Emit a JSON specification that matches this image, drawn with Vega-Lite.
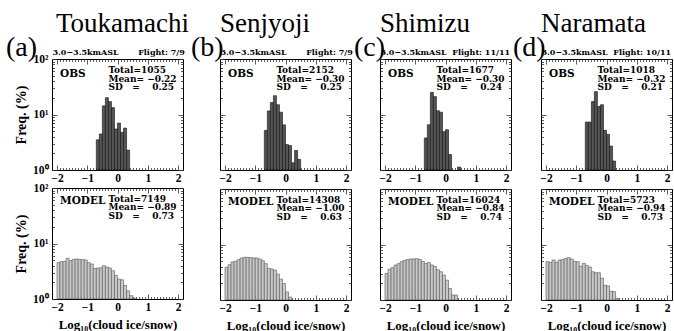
{
"$schema":"https://vega.github.io/schema/vega-lite/v6.json",
"background":"white",
"padding":{"left":5,"top":10,"right":0,"bottom":0},
"config":{
 "font":"Liberation Serif",
 "view":{"stroke":"black","strokeWidth":1},
 "axis":{"domain":false,"grid":false,"tickColor":"#333333","tickWidth":0.8,"labelFont":"Liberation Serif","labelFontWeight":"bold","labelFontSize":11.5,"labelColor":"black","labelFlush":false,"labelOverlap":false,"labelBound":false,"titleFont":"Liberation Serif","titleFontWeight":"bold","titleFontSize":13,"titleColor":"black"},
 "title":{"font":"Liberation Serif","fontWeight":"normal","color":"black"},
 "text":{"font":"DejaVu Serif","fontWeight":"bold","fontSize":9,"color":"black"}
},
"datasets":{
"bars":[
{"site":"a","panel":"OBS","lo":-0.7,"hi":-0.6,"freq":3.5},
{"site":"a","panel":"OBS","lo":-0.6,"hi":-0.5,"freq":4.45},
{"site":"a","panel":"OBS","lo":-0.5,"hi":-0.4,"freq":14.3},
{"site":"a","panel":"OBS","lo":-0.4,"hi":-0.3,"freq":20.1},
{"site":"a","panel":"OBS","lo":-0.3,"hi":-0.2,"freq":17.1},
{"site":"a","panel":"OBS","lo":-0.2,"hi":-0.1,"freq":13.3},
{"site":"a","panel":"OBS","lo":-0.1,"hi":0,"freq":5.47},
{"site":"a","panel":"OBS","lo":0,"hi":0.1,"freq":7.0},
{"site":"a","panel":"OBS","lo":0.1,"hi":0.2,"freq":4.77},
{"site":"a","panel":"OBS","lo":0.2,"hi":0.3,"freq":5.69},
{"site":"a","panel":"OBS","lo":0.3,"hi":0.4,"freq":2.28},
{"site":"b","panel":"OBS","lo":-0.7,"hi":-0.6,"freq":5.18},
{"site":"b","panel":"OBS","lo":-0.6,"hi":-0.5,"freq":11.6},
{"site":"b","panel":"OBS","lo":-0.5,"hi":-0.4,"freq":16.4},
{"site":"b","panel":"OBS","lo":-0.4,"hi":-0.3,"freq":21.8},
{"site":"b","panel":"OBS","lo":-0.3,"hi":-0.2,"freq":15},
{"site":"b","panel":"OBS","lo":-0.2,"hi":-0.1,"freq":11},
{"site":"b","panel":"OBS","lo":-0.1,"hi":0,"freq":6.5},
{"site":"b","panel":"OBS","lo":0,"hi":0.1,"freq":2.87},
{"site":"b","panel":"OBS","lo":0.1,"hi":0.2,"freq":2.76},
{"site":"b","panel":"OBS","lo":0.2,"hi":0.3,"freq":1.35},
{"site":"b","panel":"OBS","lo":0.3,"hi":0.4,"freq":2.25},
{"site":"b","panel":"OBS","lo":0.4,"hi":0.5,"freq":1.55},
{"site":"c","panel":"OBS","lo":-0.7,"hi":-0.6,"freq":3.78},
{"site":"c","panel":"OBS","lo":-0.6,"hi":-0.5,"freq":6.54},
{"site":"c","panel":"OBS","lo":-0.5,"hi":-0.4,"freq":25},
{"site":"c","panel":"OBS","lo":-0.4,"hi":-0.3,"freq":21},
{"site":"c","panel":"OBS","lo":-0.3,"hi":-0.2,"freq":11.7},
{"site":"c","panel":"OBS","lo":-0.2,"hi":-0.1,"freq":11},
{"site":"c","panel":"OBS","lo":-0.1,"hi":0,"freq":4.9},
{"site":"c","panel":"OBS","lo":0,"hi":0.1,"freq":5.33},
{"site":"c","panel":"OBS","lo":0.1,"hi":0.2,"freq":1.9},
{"site":"c","panel":"OBS","lo":0.4,"hi":0.5,"freq":1.13},
{"site":"d","panel":"OBS","lo":-0.7,"hi":-0.6,"freq":7.3},
{"site":"d","panel":"OBS","lo":-0.6,"hi":-0.5,"freq":7.3},
{"site":"d","panel":"OBS","lo":-0.5,"hi":-0.4,"freq":17.1},
{"site":"d","panel":"OBS","lo":-0.4,"hi":-0.3,"freq":25.8},
{"site":"d","panel":"OBS","lo":-0.3,"hi":-0.2,"freq":14},
{"site":"d","panel":"OBS","lo":-0.2,"hi":-0.1,"freq":15},
{"site":"d","panel":"OBS","lo":-0.1,"hi":0,"freq":5.2},
{"site":"d","panel":"OBS","lo":0,"hi":0.1,"freq":4.4},
{"site":"d","panel":"OBS","lo":0.1,"hi":0.2,"freq":2.7},
{"site":"d","panel":"OBS","lo":0.2,"hi":0.3,"freq":1.45},
{"site":"a","panel":"MODEL","lo":-2,"hi":-1.9,"freq":4.52},
{"site":"a","panel":"MODEL","lo":-1.9,"hi":-1.8,"freq":4.71},
{"site":"a","panel":"MODEL","lo":-1.8,"hi":-1.7,"freq":4.77},
{"site":"a","panel":"MODEL","lo":-1.7,"hi":-1.6,"freq":5.41},
{"site":"a","panel":"MODEL","lo":-1.6,"hi":-1.5,"freq":4.91},
{"site":"a","panel":"MODEL","lo":-1.5,"hi":-1.4,"freq":5.19},
{"site":"a","panel":"MODEL","lo":-1.4,"hi":-1.3,"freq":5.26},
{"site":"a","panel":"MODEL","lo":-1.3,"hi":-1.2,"freq":5.19},
{"site":"a","panel":"MODEL","lo":-1.2,"hi":-1.1,"freq":5.12},
{"site":"a","panel":"MODEL","lo":-1.1,"hi":-1,"freq":5.05},
{"site":"a","panel":"MODEL","lo":-1,"hi":-0.9,"freq":4.52},
{"site":"a","panel":"MODEL","lo":-0.9,"hi":-0.8,"freq":4.27},
{"site":"a","panel":"MODEL","lo":-0.8,"hi":-0.7,"freq":3.56},
{"site":"a","panel":"MODEL","lo":-0.7,"hi":-0.6,"freq":3.61},
{"site":"a","panel":"MODEL","lo":-0.6,"hi":-0.5,"freq":3.66},
{"site":"a","panel":"MODEL","lo":-0.5,"hi":-0.4,"freq":3.98},
{"site":"a","panel":"MODEL","lo":-0.4,"hi":-0.3,"freq":3.77},
{"site":"a","panel":"MODEL","lo":-0.3,"hi":-0.2,"freq":3.61},
{"site":"a","panel":"MODEL","lo":-0.2,"hi":-0.1,"freq":3.23},
{"site":"a","panel":"MODEL","lo":-0.1,"hi":0,"freq":2.66},
{"site":"a","panel":"MODEL","lo":0,"hi":0.1,"freq":2.28},
{"site":"a","panel":"MODEL","lo":0.1,"hi":0.2,"freq":2.22},
{"site":"a","panel":"MODEL","lo":0.2,"hi":0.3,"freq":1.75},
{"site":"a","panel":"MODEL","lo":0.3,"hi":0.4,"freq":1.4},
{"site":"a","panel":"MODEL","lo":0.4,"hi":0.5,"freq":1.15},
{"site":"a","panel":"MODEL","lo":0.5,"hi":0.6,"freq":1.03},
{"site":"b","panel":"MODEL","lo":-2,"hi":-1.9,"freq":3.87},
{"site":"b","panel":"MODEL","lo":-1.9,"hi":-1.8,"freq":4.33},
{"site":"b","panel":"MODEL","lo":-1.8,"hi":-1.7,"freq":4.84},
{"site":"b","panel":"MODEL","lo":-1.7,"hi":-1.6,"freq":4.98},
{"site":"b","panel":"MODEL","lo":-1.6,"hi":-1.5,"freq":5.34},
{"site":"b","panel":"MODEL","lo":-1.5,"hi":-1.4,"freq":5.72},
{"site":"b","panel":"MODEL","lo":-1.4,"hi":-1.3,"freq":5.88},
{"site":"b","panel":"MODEL","lo":-1.3,"hi":-1.2,"freq":5.88},
{"site":"b","panel":"MODEL","lo":-1.2,"hi":-1.1,"freq":5.8},
{"site":"b","panel":"MODEL","lo":-1.1,"hi":-1,"freq":5.72},
{"site":"b","panel":"MODEL","lo":-1,"hi":-0.9,"freq":5.72},
{"site":"b","panel":"MODEL","lo":-0.9,"hi":-0.8,"freq":5.49},
{"site":"b","panel":"MODEL","lo":-0.8,"hi":-0.7,"freq":5.12},
{"site":"b","panel":"MODEL","lo":-0.7,"hi":-0.6,"freq":4.52},
{"site":"b","panel":"MODEL","lo":-0.6,"hi":-0.5,"freq":3.71},
{"site":"b","panel":"MODEL","lo":-0.5,"hi":-0.4,"freq":3.61},
{"site":"b","panel":"MODEL","lo":-0.4,"hi":-0.3,"freq":3.46},
{"site":"b","panel":"MODEL","lo":-0.3,"hi":-0.2,"freq":2.93},
{"site":"b","panel":"MODEL","lo":-0.2,"hi":-0.1,"freq":2.38},
{"site":"b","panel":"MODEL","lo":-0.1,"hi":0,"freq":1.98},
{"site":"b","panel":"MODEL","lo":0,"hi":0.1,"freq":1.4},
{"site":"b","panel":"MODEL","lo":0.1,"hi":0.2,"freq":1.13},
{"site":"c","panel":"MODEL","lo":-2,"hi":-1.9,"freq":3.01},
{"site":"c","panel":"MODEL","lo":-1.9,"hi":-1.8,"freq":3.61},
{"site":"c","panel":"MODEL","lo":-1.8,"hi":-1.7,"freq":3.82},
{"site":"c","panel":"MODEL","lo":-1.7,"hi":-1.6,"freq":4.27},
{"site":"c","panel":"MODEL","lo":-1.6,"hi":-1.5,"freq":4.52},
{"site":"c","panel":"MODEL","lo":-1.5,"hi":-1.4,"freq":4.91},
{"site":"c","panel":"MODEL","lo":-1.4,"hi":-1.3,"freq":5.19},
{"site":"c","panel":"MODEL","lo":-1.3,"hi":-1.2,"freq":5.34},
{"site":"c","panel":"MODEL","lo":-1.2,"hi":-1.1,"freq":5.49},
{"site":"c","panel":"MODEL","lo":-1.1,"hi":-1,"freq":5.49},
{"site":"c","panel":"MODEL","lo":-1,"hi":-0.9,"freq":5.56},
{"site":"c","panel":"MODEL","lo":-0.9,"hi":-0.8,"freq":5.41},
{"site":"c","panel":"MODEL","lo":-0.8,"hi":-0.7,"freq":4.98},
{"site":"c","panel":"MODEL","lo":-0.7,"hi":-0.6,"freq":4.58},
{"site":"c","panel":"MODEL","lo":-0.6,"hi":-0.5,"freq":4.71},
{"site":"c","panel":"MODEL","lo":-0.5,"hi":-0.4,"freq":4.27},
{"site":"c","panel":"MODEL","lo":-0.4,"hi":-0.3,"freq":4.04},
{"site":"c","panel":"MODEL","lo":-0.3,"hi":-0.2,"freq":3.51},
{"site":"c","panel":"MODEL","lo":-0.2,"hi":-0.1,"freq":3.23},
{"site":"c","panel":"MODEL","lo":-0.1,"hi":0,"freq":2.81},
{"site":"c","panel":"MODEL","lo":0,"hi":0.1,"freq":2.28},
{"site":"c","panel":"MODEL","lo":0.1,"hi":0.2,"freq":1.61},
{"site":"c","panel":"MODEL","lo":0.2,"hi":0.3,"freq":1.23},
{"site":"c","panel":"MODEL","lo":0.3,"hi":0.4,"freq":1.23},
{"site":"d","panel":"MODEL","lo":-2,"hi":-1.9,"freq":4.91},
{"site":"d","panel":"MODEL","lo":-1.9,"hi":-1.8,"freq":4.77},
{"site":"d","panel":"MODEL","lo":-1.8,"hi":-1.7,"freq":5.26},
{"site":"d","panel":"MODEL","lo":-1.7,"hi":-1.6,"freq":4.77},
{"site":"d","panel":"MODEL","lo":-1.6,"hi":-1.5,"freq":5.26},
{"site":"d","panel":"MODEL","lo":-1.5,"hi":-1.4,"freq":5.34},
{"site":"d","panel":"MODEL","lo":-1.4,"hi":-1.3,"freq":5.56},
{"site":"d","panel":"MODEL","lo":-1.3,"hi":-1.2,"freq":5.8},
{"site":"d","panel":"MODEL","lo":-1.2,"hi":-1.1,"freq":5.49},
{"site":"d","panel":"MODEL","lo":-1.1,"hi":-1,"freq":4.98},
{"site":"d","panel":"MODEL","lo":-1,"hi":-0.9,"freq":4.91},
{"site":"d","panel":"MODEL","lo":-0.9,"hi":-0.8,"freq":4.04},
{"site":"d","panel":"MODEL","lo":-0.8,"hi":-0.7,"freq":4.58},
{"site":"d","panel":"MODEL","lo":-0.7,"hi":-0.6,"freq":4.21},
{"site":"d","panel":"MODEL","lo":-0.6,"hi":-0.5,"freq":3.93},
{"site":"d","panel":"MODEL","lo":-0.5,"hi":-0.4,"freq":3.23},
{"site":"d","panel":"MODEL","lo":-0.4,"hi":-0.3,"freq":3.1},
{"site":"d","panel":"MODEL","lo":-0.3,"hi":-0.2,"freq":3.1},
{"site":"d","panel":"MODEL","lo":-0.2,"hi":-0.1,"freq":2.48},
{"site":"d","panel":"MODEL","lo":-0.1,"hi":0,"freq":1.85},
{"site":"d","panel":"MODEL","lo":0,"hi":0.1,"freq":1.8},
{"site":"d","panel":"MODEL","lo":0.1,"hi":0.2,"freq":1.44},
{"site":"d","panel":"MODEL","lo":0.2,"hi":0.3,"freq":1.42},
{"site":"d","panel":"MODEL","lo":0.3,"hi":0.4,"freq":1.07}
],
"stats":[
{"site":"a","panel":"OBS","stats":"Total=1055\nMean= −0.22\nSD\u00a0\u00a0\u00a0=\u00a0\u00a0\u00a0\u00a00.25"},
{"site":"b","panel":"OBS","stats":"Total=2152\nMean= −0.30\nSD\u00a0\u00a0\u00a0=\u00a0\u00a0\u00a0\u00a00.25"},
{"site":"c","panel":"OBS","stats":"Total=1677\nMean= −0.30\nSD\u00a0\u00a0\u00a0=\u00a0\u00a0\u00a0\u00a00.24"},
{"site":"d","panel":"OBS","stats":"Total=1018\nMean= −0.32\nSD\u00a0\u00a0\u00a0=\u00a0\u00a0\u00a0\u00a00.21"},
{"site":"a","panel":"MODEL","stats":"Total=7149\nMean= −0.89\nSD\u00a0\u00a0\u00a0=\u00a0\u00a0\u00a0\u00a00.73"},
{"site":"b","panel":"MODEL","stats":"Total=14308\nMean= −1.00\nSD\u00a0\u00a0\u00a0=\u00a0\u00a0\u00a0\u00a00.63"},
{"site":"c","panel":"MODEL","stats":"Total=16024\nMean= −0.84\nSD\u00a0\u00a0\u00a0=\u00a0\u00a0\u00a0\u00a00.74"},
{"site":"d","panel":"MODEL","stats":"Total=5723\nMean= −0.94\nSD\u00a0\u00a0\u00a0=\u00a0\u00a0\u00a0\u00a00.73"}
]
},
"spacing":0,
"hconcat":[
{"spacing":-6,"title":{"text":"Toukamachi","anchor":"start","frame":"group","fontSize":27,"dx":4,"offset":-5},
 "vconcat":[
 {"width":131,"height":111,"title":{"text":"(a)","anchor":"start","frame":"group","fontSize":28,"dx":-46,"offset":-13},
  "layer":[
  {"data":{"name":"bars"},"transform":[{"filter":"datum.site==='a' && datum.panel==='OBS'"}],
   "mark":{"type":"bar","orient":"vertical","fill":"#555555","stroke":"#111111","strokeWidth":0.6,"clip":true},
   "encoding":{
    "x":{"field":"lo","type":"quantitative","scale":{"domain":[-2,2],"nice":false,"zero":false},"axis":{"orient":"bottom","values":[-2,-1.9,-1.8,-1.7,-1.6,-1.5,-1.4,-1.3,-1.2,-1.1,-1,-0.9,-0.8,-0.7,-0.6,-0.5,-0.4,-0.3,-0.2,-0.1,0,0.1,0.2,0.3,0.4,0.5,0.6,0.7,0.8,0.9,1,1.1,1.2,1.3,1.4,1.5,1.6,1.7,1.8,1.9,2],"labelExpr":"datum.value % 1 === 0 ? format(datum.value, 'd') : ''","tickSize":{"condition":{"test":"datum.value % 1 === 0","value":-5},"value":-2.5},"labelPadding":7,"title":null}},
    "x2":{"field":"hi"},
    "y":{"field":"freq","type":"quantitative","scale":{"type":"log","domain":[1,100],"nice":false},"axis":{"orient":"left","values":[1,2,3,4,5,6,7,8,9,10,20,30,40,50,60,70,80,90,100],"labelExpr":"datum.value === 1 ? '10⁰' : datum.value === 10 ? '10¹' : datum.value === 100 ? '10²' : ''","tickSize":{"condition":{"test":"datum.value === 1 || datum.value === 10 || datum.value === 100","value":-5},"value":-2.5},"labelPadding":9,"title":"Freq. (%)","titleFontSize":14,"titlePadding":4}},
    "y2":{"datum":1}
   }},
  {"data":{"name":"stats"},"transform":[{"filter":"datum.site==='a' && datum.panel==='OBS'"}],
   "mark":{"type":"text","align":"left","baseline":"top","fontSize":10.5},
   "encoding":{
    "x":{"datum":-1.9,"type":"quantitative","axis":{"orient":"top","values":[-2,-1.9,-1.8,-1.7,-1.6,-1.5,-1.4,-1.3,-1.2,-1.1,-1,-0.9,-0.8,-0.7,-0.6,-0.5,-0.4,-0.3,-0.2,-0.1,0,0.1,0.2,0.3,0.4,0.5,0.6,0.7,0.8,0.9,1,1.1,1.2,1.3,1.4,1.5,1.6,1.7,1.8,1.9,2],"labels":false,"tickSize":{"condition":{"test":"datum.value % 1 === 0","value":-5},"value":-2.5},"title":"3.0−3.5kmASL\u00a0\u00a0\u00a0\u00a0\u00a0\u00a0\u00a0Flight: 7/9","titleAnchor":"start","titleFont":"DejaVu Serif","titleFontSize":8,"titlePadding":2}},
    "y":{"datum":66,"type":"quantitative","axis":{"orient":"right","values":[1,2,3,4,5,6,7,8,9,10,20,30,40,50,60,70,80,90,100],"labels":false,"tickSize":{"condition":{"test":"datum.value === 1 || datum.value === 10 || datum.value === 100","value":-5},"value":-2.5},"title":null}},
    "text":{"field":"panel"}}},
  {"data":{"name":"stats"},"transform":[{"filter":"datum.site==='a' && datum.panel==='OBS'"}],
   "mark":{"type":"text","align":"left","baseline":"top","lineBreak":"\n","lineHeight":8.5},
   "encoding":{"x":{"datum":-0.3,"type":"quantitative","axis":null},"y":{"datum":74,"type":"quantitative","axis":null},"text":{"field":"stats"}}}
  ]},
 {"width":131,"height":111,
  "layer":[
  {"data":{"name":"bars"},"transform":[{"filter":"datum.site==='a' && datum.panel==='MODEL'"}],
   "mark":{"type":"bar","orient":"vertical","fill":"#c8c8c8","stroke":"#555555","strokeWidth":0.6,"clip":true},
   "encoding":{
    "x":{"field":"lo","type":"quantitative","scale":{"domain":[-2,2],"nice":false,"zero":false},"axis":{"orient":"bottom","values":[-2,-1.9,-1.8,-1.7,-1.6,-1.5,-1.4,-1.3,-1.2,-1.1,-1,-0.9,-0.8,-0.7,-0.6,-0.5,-0.4,-0.3,-0.2,-0.1,0,0.1,0.2,0.3,0.4,0.5,0.6,0.7,0.8,0.9,1,1.1,1.2,1.3,1.4,1.5,1.6,1.7,1.8,1.9,2],"labelExpr":"datum.value % 1 === 0 ? format(datum.value, 'd') : ''","tickSize":{"condition":{"test":"datum.value % 1 === 0","value":-5},"value":-2.5},"labelPadding":7,"title":"Log₁₀(cloud ice/snow)","titlePadding":3}},
    "x2":{"field":"hi"},
    "y":{"field":"freq","type":"quantitative","scale":{"type":"log","domain":[1,100],"nice":false},"axis":{"orient":"left","values":[1,2,3,4,5,6,7,8,9,10,20,30,40,50,60,70,80,90,100],"labelExpr":"datum.value === 1 ? '10⁰' : datum.value === 10 ? '10¹' : datum.value === 100 ? '10²' : ''","tickSize":{"condition":{"test":"datum.value === 1 || datum.value === 10 || datum.value === 100","value":-5},"value":-2.5},"labelPadding":9,"title":"Freq. (%)","titleFontSize":14,"titlePadding":4}},
    "y2":{"datum":1}
   }},
  {"data":{"name":"stats"},"transform":[{"filter":"datum.site==='a' && datum.panel==='MODEL'"}],
   "mark":{"type":"text","align":"left","baseline":"top","fontSize":10.5},
   "encoding":{
    "x":{"datum":-1.9,"type":"quantitative","axis":{"orient":"top","values":[-2,-1.9,-1.8,-1.7,-1.6,-1.5,-1.4,-1.3,-1.2,-1.1,-1,-0.9,-0.8,-0.7,-0.6,-0.5,-0.4,-0.3,-0.2,-0.1,0,0.1,0.2,0.3,0.4,0.5,0.6,0.7,0.8,0.9,1,1.1,1.2,1.3,1.4,1.5,1.6,1.7,1.8,1.9,2],"labels":false,"tickSize":{"condition":{"test":"datum.value % 1 === 0","value":-5},"value":-2.5},"title":null}},
    "y":{"datum":72,"type":"quantitative","axis":{"orient":"right","values":[1,2,3,4,5,6,7,8,9,10,20,30,40,50,60,70,80,90,100],"labels":false,"tickSize":{"condition":{"test":"datum.value === 1 || datum.value === 10 || datum.value === 100","value":-5},"value":-2.5},"title":null}},
    "text":{"field":"panel"}}},
  {"data":{"name":"stats"},"transform":[{"filter":"datum.site==='a' && datum.panel==='MODEL'"}],
   "mark":{"type":"text","align":"left","baseline":"top","lineBreak":"\n","lineHeight":8.5},
   "encoding":{"x":{"datum":-0.3,"type":"quantitative","axis":null},"y":{"datum":76,"type":"quantitative","axis":null},"text":{"field":"stats"}}}
  ]}
 ]},
{"spacing":1,"title":{"text":"Senjyoji","anchor":"start","frame":"group","fontSize":27,"dx":0,"offset":-5},
 "vconcat":[
 {"width":131,"height":111,"title":{"text":"(b)","anchor":"start","frame":"group","fontSize":28,"dx":-29,"offset":-13},
  "layer":[
  {"data":{"name":"bars"},"transform":[{"filter":"datum.site==='b' && datum.panel==='OBS'"}],
   "mark":{"type":"bar","orient":"vertical","fill":"#555555","stroke":"#111111","strokeWidth":0.6,"clip":true},
   "encoding":{
    "x":{"field":"lo","type":"quantitative","scale":{"domain":[-2,2],"nice":false,"zero":false},"axis":{"orient":"bottom","values":[-2,-1.9,-1.8,-1.7,-1.6,-1.5,-1.4,-1.3,-1.2,-1.1,-1,-0.9,-0.8,-0.7,-0.6,-0.5,-0.4,-0.3,-0.2,-0.1,0,0.1,0.2,0.3,0.4,0.5,0.6,0.7,0.8,0.9,1,1.1,1.2,1.3,1.4,1.5,1.6,1.7,1.8,1.9,2],"labelExpr":"datum.value % 1 === 0 ? format(datum.value, 'd') : ''","tickSize":{"condition":{"test":"datum.value % 1 === 0","value":-5},"value":-2.5},"labelPadding":7,"title":null}},
    "x2":{"field":"hi"},
    "y":{"field":"freq","type":"quantitative","scale":{"type":"log","domain":[1,100],"nice":false},"axis":{"orient":"left","values":[1,2,3,4,5,6,7,8,9,10,20,30,40,50,60,70,80,90,100],"labels":false,"tickSize":{"condition":{"test":"datum.value === 1 || datum.value === 10 || datum.value === 100","value":-5},"value":-2.5},"title":null}},
    "y2":{"datum":1}
   }},
  {"data":{"name":"stats"},"transform":[{"filter":"datum.site==='b' && datum.panel==='OBS'"}],
   "mark":{"type":"text","align":"left","baseline":"top","fontSize":10.5},
   "encoding":{
    "x":{"datum":-1.9,"type":"quantitative","axis":{"orient":"top","values":[-2,-1.9,-1.8,-1.7,-1.6,-1.5,-1.4,-1.3,-1.2,-1.1,-1,-0.9,-0.8,-0.7,-0.6,-0.5,-0.4,-0.3,-0.2,-0.1,0,0.1,0.2,0.3,0.4,0.5,0.6,0.7,0.8,0.9,1,1.1,1.2,1.3,1.4,1.5,1.6,1.7,1.8,1.9,2],"labels":false,"tickSize":{"condition":{"test":"datum.value % 1 === 0","value":-5},"value":-2.5},"title":"3.0−3.5kmASL\u00a0\u00a0\u00a0\u00a0\u00a0\u00a0\u00a0Flight: 7/9","titleAnchor":"start","titleFont":"DejaVu Serif","titleFontSize":8,"titlePadding":2}},
    "y":{"datum":66,"type":"quantitative","axis":{"orient":"right","values":[1,2,3,4,5,6,7,8,9,10,20,30,40,50,60,70,80,90,100],"labels":false,"tickSize":{"condition":{"test":"datum.value === 1 || datum.value === 10 || datum.value === 100","value":-5},"value":-2.5},"title":null}},
    "text":{"field":"panel"}}},
  {"data":{"name":"stats"},"transform":[{"filter":"datum.site==='b' && datum.panel==='OBS'"}],
   "mark":{"type":"text","align":"left","baseline":"top","lineBreak":"\n","lineHeight":8.5},
   "encoding":{"x":{"datum":-0.3,"type":"quantitative","axis":null},"y":{"datum":74,"type":"quantitative","axis":null},"text":{"field":"stats"}}}
  ]},
 {"width":131,"height":111,
  "layer":[
  {"data":{"name":"bars"},"transform":[{"filter":"datum.site==='b' && datum.panel==='MODEL'"}],
   "mark":{"type":"bar","orient":"vertical","fill":"#c8c8c8","stroke":"#555555","strokeWidth":0.6,"clip":true},
   "encoding":{
    "x":{"field":"lo","type":"quantitative","scale":{"domain":[-2,2],"nice":false,"zero":false},"axis":{"orient":"bottom","values":[-2,-1.9,-1.8,-1.7,-1.6,-1.5,-1.4,-1.3,-1.2,-1.1,-1,-0.9,-0.8,-0.7,-0.6,-0.5,-0.4,-0.3,-0.2,-0.1,0,0.1,0.2,0.3,0.4,0.5,0.6,0.7,0.8,0.9,1,1.1,1.2,1.3,1.4,1.5,1.6,1.7,1.8,1.9,2],"labelExpr":"datum.value % 1 === 0 ? format(datum.value, 'd') : ''","tickSize":{"condition":{"test":"datum.value % 1 === 0","value":-5},"value":-2.5},"labelPadding":7,"title":"Log₁₀(cloud ice/snow)","titlePadding":3}},
    "x2":{"field":"hi"},
    "y":{"field":"freq","type":"quantitative","scale":{"type":"log","domain":[1,100],"nice":false},"axis":{"orient":"left","values":[1,2,3,4,5,6,7,8,9,10,20,30,40,50,60,70,80,90,100],"labels":false,"tickSize":{"condition":{"test":"datum.value === 1 || datum.value === 10 || datum.value === 100","value":-5},"value":-2.5},"title":null}},
    "y2":{"datum":1}
   }},
  {"data":{"name":"stats"},"transform":[{"filter":"datum.site==='b' && datum.panel==='MODEL'"}],
   "mark":{"type":"text","align":"left","baseline":"top","fontSize":10.5},
   "encoding":{
    "x":{"datum":-1.9,"type":"quantitative","axis":{"orient":"top","values":[-2,-1.9,-1.8,-1.7,-1.6,-1.5,-1.4,-1.3,-1.2,-1.1,-1,-0.9,-0.8,-0.7,-0.6,-0.5,-0.4,-0.3,-0.2,-0.1,0,0.1,0.2,0.3,0.4,0.5,0.6,0.7,0.8,0.9,1,1.1,1.2,1.3,1.4,1.5,1.6,1.7,1.8,1.9,2],"labels":false,"tickSize":{"condition":{"test":"datum.value % 1 === 0","value":-5},"value":-2.5},"title":null}},
    "y":{"datum":72,"type":"quantitative","axis":{"orient":"right","values":[1,2,3,4,5,6,7,8,9,10,20,30,40,50,60,70,80,90,100],"labels":false,"tickSize":{"condition":{"test":"datum.value === 1 || datum.value === 10 || datum.value === 100","value":-5},"value":-2.5},"title":null}},
    "text":{"field":"panel"}}},
  {"data":{"name":"stats"},"transform":[{"filter":"datum.site==='b' && datum.panel==='MODEL'"}],
   "mark":{"type":"text","align":"left","baseline":"top","lineBreak":"\n","lineHeight":8.5},
   "encoding":{"x":{"datum":-0.3,"type":"quantitative","axis":null},"y":{"datum":76,"type":"quantitative","axis":null},"text":{"field":"stats"}}}
  ]}
 ]},
{"spacing":1,"title":{"text":"Shimizu","anchor":"start","frame":"group","fontSize":27,"dx":0,"offset":-5},
 "vconcat":[
 {"width":131,"height":111,"title":{"text":"(c)","anchor":"start","frame":"group","fontSize":28,"dx":-26,"offset":-13},
  "layer":[
  {"data":{"name":"bars"},"transform":[{"filter":"datum.site==='c' && datum.panel==='OBS'"}],
   "mark":{"type":"bar","orient":"vertical","fill":"#555555","stroke":"#111111","strokeWidth":0.6,"clip":true},
   "encoding":{
    "x":{"field":"lo","type":"quantitative","scale":{"domain":[-2,2],"nice":false,"zero":false},"axis":{"orient":"bottom","values":[-2,-1.9,-1.8,-1.7,-1.6,-1.5,-1.4,-1.3,-1.2,-1.1,-1,-0.9,-0.8,-0.7,-0.6,-0.5,-0.4,-0.3,-0.2,-0.1,0,0.1,0.2,0.3,0.4,0.5,0.6,0.7,0.8,0.9,1,1.1,1.2,1.3,1.4,1.5,1.6,1.7,1.8,1.9,2],"labelExpr":"datum.value % 1 === 0 ? format(datum.value, 'd') : ''","tickSize":{"condition":{"test":"datum.value % 1 === 0","value":-5},"value":-2.5},"labelPadding":7,"title":null}},
    "x2":{"field":"hi"},
    "y":{"field":"freq","type":"quantitative","scale":{"type":"log","domain":[1,100],"nice":false},"axis":{"orient":"left","values":[1,2,3,4,5,6,7,8,9,10,20,30,40,50,60,70,80,90,100],"labels":false,"tickSize":{"condition":{"test":"datum.value === 1 || datum.value === 10 || datum.value === 100","value":-5},"value":-2.5},"title":null}},
    "y2":{"datum":1}
   }},
  {"data":{"name":"stats"},"transform":[{"filter":"datum.site==='c' && datum.panel==='OBS'"}],
   "mark":{"type":"text","align":"left","baseline":"top","fontSize":10.5},
   "encoding":{
    "x":{"datum":-1.9,"type":"quantitative","axis":{"orient":"top","values":[-2,-1.9,-1.8,-1.7,-1.6,-1.5,-1.4,-1.3,-1.2,-1.1,-1,-0.9,-0.8,-0.7,-0.6,-0.5,-0.4,-0.3,-0.2,-0.1,0,0.1,0.2,0.3,0.4,0.5,0.6,0.7,0.8,0.9,1,1.1,1.2,1.3,1.4,1.5,1.6,1.7,1.8,1.9,2],"labels":false,"tickSize":{"condition":{"test":"datum.value % 1 === 0","value":-5},"value":-2.5},"title":"3.0−3.5kmASL\u00a0\u00a0Flight: 11/11","titleAnchor":"start","titleFont":"DejaVu Serif","titleFontSize":8,"titlePadding":2}},
    "y":{"datum":66,"type":"quantitative","axis":{"orient":"right","values":[1,2,3,4,5,6,7,8,9,10,20,30,40,50,60,70,80,90,100],"labels":false,"tickSize":{"condition":{"test":"datum.value === 1 || datum.value === 10 || datum.value === 100","value":-5},"value":-2.5},"title":null}},
    "text":{"field":"panel"}}},
  {"data":{"name":"stats"},"transform":[{"filter":"datum.site==='c' && datum.panel==='OBS'"}],
   "mark":{"type":"text","align":"left","baseline":"top","lineBreak":"\n","lineHeight":8.5},
   "encoding":{"x":{"datum":-0.3,"type":"quantitative","axis":null},"y":{"datum":74,"type":"quantitative","axis":null},"text":{"field":"stats"}}}
  ]},
 {"width":131,"height":111,
  "layer":[
  {"data":{"name":"bars"},"transform":[{"filter":"datum.site==='c' && datum.panel==='MODEL'"}],
   "mark":{"type":"bar","orient":"vertical","fill":"#c8c8c8","stroke":"#555555","strokeWidth":0.6,"clip":true},
   "encoding":{
    "x":{"field":"lo","type":"quantitative","scale":{"domain":[-2,2],"nice":false,"zero":false},"axis":{"orient":"bottom","values":[-2,-1.9,-1.8,-1.7,-1.6,-1.5,-1.4,-1.3,-1.2,-1.1,-1,-0.9,-0.8,-0.7,-0.6,-0.5,-0.4,-0.3,-0.2,-0.1,0,0.1,0.2,0.3,0.4,0.5,0.6,0.7,0.8,0.9,1,1.1,1.2,1.3,1.4,1.5,1.6,1.7,1.8,1.9,2],"labelExpr":"datum.value % 1 === 0 ? format(datum.value, 'd') : ''","tickSize":{"condition":{"test":"datum.value % 1 === 0","value":-5},"value":-2.5},"labelPadding":7,"title":"Log₁₀(cloud ice/snow)","titlePadding":3}},
    "x2":{"field":"hi"},
    "y":{"field":"freq","type":"quantitative","scale":{"type":"log","domain":[1,100],"nice":false},"axis":{"orient":"left","values":[1,2,3,4,5,6,7,8,9,10,20,30,40,50,60,70,80,90,100],"labels":false,"tickSize":{"condition":{"test":"datum.value === 1 || datum.value === 10 || datum.value === 100","value":-5},"value":-2.5},"title":null}},
    "y2":{"datum":1}
   }},
  {"data":{"name":"stats"},"transform":[{"filter":"datum.site==='c' && datum.panel==='MODEL'"}],
   "mark":{"type":"text","align":"left","baseline":"top","fontSize":10.5},
   "encoding":{
    "x":{"datum":-1.9,"type":"quantitative","axis":{"orient":"top","values":[-2,-1.9,-1.8,-1.7,-1.6,-1.5,-1.4,-1.3,-1.2,-1.1,-1,-0.9,-0.8,-0.7,-0.6,-0.5,-0.4,-0.3,-0.2,-0.1,0,0.1,0.2,0.3,0.4,0.5,0.6,0.7,0.8,0.9,1,1.1,1.2,1.3,1.4,1.5,1.6,1.7,1.8,1.9,2],"labels":false,"tickSize":{"condition":{"test":"datum.value % 1 === 0","value":-5},"value":-2.5},"title":null}},
    "y":{"datum":72,"type":"quantitative","axis":{"orient":"right","values":[1,2,3,4,5,6,7,8,9,10,20,30,40,50,60,70,80,90,100],"labels":false,"tickSize":{"condition":{"test":"datum.value === 1 || datum.value === 10 || datum.value === 100","value":-5},"value":-2.5},"title":null}},
    "text":{"field":"panel"}}},
  {"data":{"name":"stats"},"transform":[{"filter":"datum.site==='c' && datum.panel==='MODEL'"}],
   "mark":{"type":"text","align":"left","baseline":"top","lineBreak":"\n","lineHeight":8.5},
   "encoding":{"x":{"datum":-0.3,"type":"quantitative","axis":null},"y":{"datum":76,"type":"quantitative","axis":null},"text":{"field":"stats"}}}
  ]}
 ]},
{"spacing":1,"title":{"text":"Naramata","anchor":"start","frame":"group","fontSize":27,"dx":0,"offset":-5},
 "vconcat":[
 {"width":131,"height":111,"title":{"text":"(d)","anchor":"start","frame":"group","fontSize":28,"dx":-28,"offset":-13},
  "layer":[
  {"data":{"name":"bars"},"transform":[{"filter":"datum.site==='d' && datum.panel==='OBS'"}],
   "mark":{"type":"bar","orient":"vertical","fill":"#555555","stroke":"#111111","strokeWidth":0.6,"clip":true},
   "encoding":{
    "x":{"field":"lo","type":"quantitative","scale":{"domain":[-2,2],"nice":false,"zero":false},"axis":{"orient":"bottom","values":[-2,-1.9,-1.8,-1.7,-1.6,-1.5,-1.4,-1.3,-1.2,-1.1,-1,-0.9,-0.8,-0.7,-0.6,-0.5,-0.4,-0.3,-0.2,-0.1,0,0.1,0.2,0.3,0.4,0.5,0.6,0.7,0.8,0.9,1,1.1,1.2,1.3,1.4,1.5,1.6,1.7,1.8,1.9,2],"labelExpr":"datum.value % 1 === 0 ? format(datum.value, 'd') : ''","tickSize":{"condition":{"test":"datum.value % 1 === 0","value":-5},"value":-2.5},"labelPadding":7,"title":null}},
    "x2":{"field":"hi"},
    "y":{"field":"freq","type":"quantitative","scale":{"type":"log","domain":[1,100],"nice":false},"axis":{"orient":"left","values":[1,2,3,4,5,6,7,8,9,10,20,30,40,50,60,70,80,90,100],"labels":false,"tickSize":{"condition":{"test":"datum.value === 1 || datum.value === 10 || datum.value === 100","value":-5},"value":-2.5},"title":null}},
    "y2":{"datum":1}
   }},
  {"data":{"name":"stats"},"transform":[{"filter":"datum.site==='d' && datum.panel==='OBS'"}],
   "mark":{"type":"text","align":"left","baseline":"top","fontSize":10.5},
   "encoding":{
    "x":{"datum":-1.9,"type":"quantitative","axis":{"orient":"top","values":[-2,-1.9,-1.8,-1.7,-1.6,-1.5,-1.4,-1.3,-1.2,-1.1,-1,-0.9,-0.8,-0.7,-0.6,-0.5,-0.4,-0.3,-0.2,-0.1,0,0.1,0.2,0.3,0.4,0.5,0.6,0.7,0.8,0.9,1,1.1,1.2,1.3,1.4,1.5,1.6,1.7,1.8,1.9,2],"labels":false,"tickSize":{"condition":{"test":"datum.value % 1 === 0","value":-5},"value":-2.5},"title":"3.0−3.5kmASL\u00a0\u00a0Flight: 10/11","titleAnchor":"start","titleFont":"DejaVu Serif","titleFontSize":8,"titlePadding":2}},
    "y":{"datum":66,"type":"quantitative","axis":{"orient":"right","values":[1,2,3,4,5,6,7,8,9,10,20,30,40,50,60,70,80,90,100],"labels":false,"tickSize":{"condition":{"test":"datum.value === 1 || datum.value === 10 || datum.value === 100","value":-5},"value":-2.5},"title":null}},
    "text":{"field":"panel"}}},
  {"data":{"name":"stats"},"transform":[{"filter":"datum.site==='d' && datum.panel==='OBS'"}],
   "mark":{"type":"text","align":"left","baseline":"top","lineBreak":"\n","lineHeight":8.5},
   "encoding":{"x":{"datum":-0.3,"type":"quantitative","axis":null},"y":{"datum":74,"type":"quantitative","axis":null},"text":{"field":"stats"}}}
  ]},
 {"width":131,"height":111,
  "layer":[
  {"data":{"name":"bars"},"transform":[{"filter":"datum.site==='d' && datum.panel==='MODEL'"}],
   "mark":{"type":"bar","orient":"vertical","fill":"#c8c8c8","stroke":"#555555","strokeWidth":0.6,"clip":true},
   "encoding":{
    "x":{"field":"lo","type":"quantitative","scale":{"domain":[-2,2],"nice":false,"zero":false},"axis":{"orient":"bottom","values":[-2,-1.9,-1.8,-1.7,-1.6,-1.5,-1.4,-1.3,-1.2,-1.1,-1,-0.9,-0.8,-0.7,-0.6,-0.5,-0.4,-0.3,-0.2,-0.1,0,0.1,0.2,0.3,0.4,0.5,0.6,0.7,0.8,0.9,1,1.1,1.2,1.3,1.4,1.5,1.6,1.7,1.8,1.9,2],"labelExpr":"datum.value % 1 === 0 ? format(datum.value, 'd') : ''","tickSize":{"condition":{"test":"datum.value % 1 === 0","value":-5},"value":-2.5},"labelPadding":7,"title":"Log₁₀(cloud ice/snow)","titlePadding":3}},
    "x2":{"field":"hi"},
    "y":{"field":"freq","type":"quantitative","scale":{"type":"log","domain":[1,100],"nice":false},"axis":{"orient":"left","values":[1,2,3,4,5,6,7,8,9,10,20,30,40,50,60,70,80,90,100],"labels":false,"tickSize":{"condition":{"test":"datum.value === 1 || datum.value === 10 || datum.value === 100","value":-5},"value":-2.5},"title":null}},
    "y2":{"datum":1}
   }},
  {"data":{"name":"stats"},"transform":[{"filter":"datum.site==='d' && datum.panel==='MODEL'"}],
   "mark":{"type":"text","align":"left","baseline":"top","fontSize":10.5},
   "encoding":{
    "x":{"datum":-1.9,"type":"quantitative","axis":{"orient":"top","values":[-2,-1.9,-1.8,-1.7,-1.6,-1.5,-1.4,-1.3,-1.2,-1.1,-1,-0.9,-0.8,-0.7,-0.6,-0.5,-0.4,-0.3,-0.2,-0.1,0,0.1,0.2,0.3,0.4,0.5,0.6,0.7,0.8,0.9,1,1.1,1.2,1.3,1.4,1.5,1.6,1.7,1.8,1.9,2],"labels":false,"tickSize":{"condition":{"test":"datum.value % 1 === 0","value":-5},"value":-2.5},"title":null}},
    "y":{"datum":72,"type":"quantitative","axis":{"orient":"right","values":[1,2,3,4,5,6,7,8,9,10,20,30,40,50,60,70,80,90,100],"labels":false,"tickSize":{"condition":{"test":"datum.value === 1 || datum.value === 10 || datum.value === 100","value":-5},"value":-2.5},"title":null}},
    "text":{"field":"panel"}}},
  {"data":{"name":"stats"},"transform":[{"filter":"datum.site==='d' && datum.panel==='MODEL'"}],
   "mark":{"type":"text","align":"left","baseline":"top","lineBreak":"\n","lineHeight":8.5},
   "encoding":{"x":{"datum":-0.3,"type":"quantitative","axis":null},"y":{"datum":76,"type":"quantitative","axis":null},"text":{"field":"stats"}}}
  ]}
 ]}
]
}
